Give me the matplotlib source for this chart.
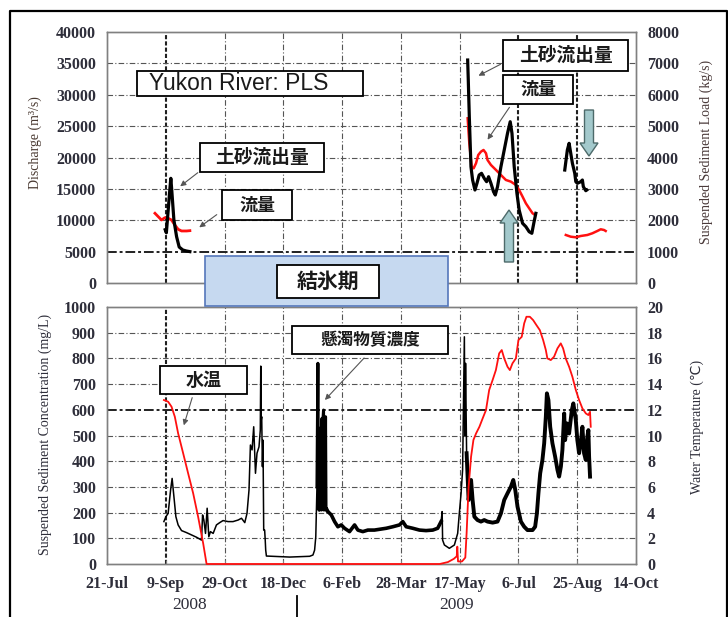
import matplotlib
matplotlib.use("Agg")
import matplotlib.pyplot as plt
from matplotlib.patches import Rectangle, Polygon, FancyArrowPatch
from matplotlib.lines import Line2D
import numpy as np

W, H = 728, 617

# ---------------- data (x = days since 21-Jul-2008) ----------------
tick_days = [0, 50, 100, 150, 200, 250, 300, 350, 400, 450]
tick_labels = ["21-Jul", "9-Sep", "29-Oct", "18-Dec", "6-Feb", "28-Mar", "17-May", "6-Jul", "25-Aug", "14-Oct"]
q_ticks = [0, 5000, 10000, 15000, 20000, 25000, 30000, 35000, 40000]
load_ticks = [0, 1000, 2000, 3000, 4000, 5000, 6000, 7000, 8000]
ssc_ticks = [0, 100, 200, 300, 400, 500, 600, 700, 800, 900, 1000]
temp_ticks = [0, 2, 4, 6, 8, 10, 12, 14, 16, 18, 20]

# Discharge (m3/s)
discharge_2008 = [(40.8, 11110), (43.6, 10570), (46.4, 10040), (49.2, 10410), (52.0, 10310),
                  (54.9, 10040), (57.7, 9245), (60.5, 8560), (63.4, 8290), (67.7, 8290), (70.5, 8340)]
discharge_2009a = [(306.8, 26250), (308.2, 22270), (310.2, 18540), (311.9, 18280), (313.9, 19080),
                   (315.8, 20400), (318.1, 20930), (320.3, 21200), (322.4, 20670), (323.7, 19600),
                   (326.6, 18810), (330.9, 18010), (335.1, 17210), (339.3, 16420), (343.6, 16150),
                   (347.8, 15620), (350.6, 14820), (353.5, 13760), (356.3, 12700), (359.1, 11910),
                   (362.0, 11110), (364.2, 10840)]
discharge_2009b = [(390.3, 7651), (394.5, 7380), (398.8, 7285), (403.0, 7492), (408.6, 7651),
                   (412.9, 7922), (417.1, 8290), (420.0, 8560), (422.8, 8449), (424.2, 8290)]

# Suspended sediment load (kg/s)
load_2008 = [(49.5, 1700), (50.5, 1600), (52.0, 2300), (53.5, 3000), (54.3, 3337), (55.2, 2900),
             (56.9, 2008), (59.2, 1476), (61.4, 1147), (64.5, 1052), (67.5, 1020), (70.5, 1000)]
load_2009a = [(306.8, 7107), (307.3, 6500), (308.2, 5300), (309.6, 3707), (311.0, 3283), (313.0, 2964),
              (314.7, 3177), (316.6, 3442), (318.6, 3496), (320.9, 3337), (322.9, 3229), (324.6, 3388),
              (326.6, 3177), (328.8, 2910), (330.3, 2805), (332.2, 3069), (335.1, 3707), (337.9, 4239),
              (340.7, 4771), (343.0, 5141), (344.5, 4771), (346.4, 3707), (348.7, 2859), (350.6, 2327),
              (353.5, 1903), (356.3, 1796), (359.1, 1635), (361.4, 1584), (363.3, 1954), (364.8, 2221)]
load_2009b = [(389.4, 3601), (391.6, 4239), (393.1, 4452), (394.5, 4133), (395.9, 3815), (397.9, 3496),
              (398.8, 3229), (400.1, 3177), (403.0, 3229), (404.4, 3283), (405.2, 3069), (407.3, 2942),
              (408.1, 2964)]

# Suspended sediment concentration (mg/L)
ssc = [(48.4, 165), (50.1, 184), (52.0, 197), (54.1, 288), (55.4, 333), (56.9, 262), (58.6, 184),
       (60.5, 152), (63.4, 130), (67.7, 122), (71.9, 113), (76.2, 104), (80.4, 93), (81.3, 191),
       (82.4, 171), (83.8, 119), (85.2, 217), (86.6, 106), (88.0, 126), (90.3, 119), (93.1, 152),
       (95.9, 161), (98.7, 169), (103.0, 165), (107.2, 165), (111.5, 171), (114.4, 178), (117.2, 161),
       (119.1, 197), (120.8, 288), (122.0, 463), (123.4, 444), (124.8, 534), (126.3, 353), (127.6, 431),
       (129.3, 456), (130.4, 521), (130.8, 770), (131.2, 560), (131.6, 573), (132.2, 379), (132.7, 482),
       (133.3, 132), (134.1, 132), (134.6, 93), (135.0, 54), (135.6, 31), (155.4, 27), (172.4, 30),
       (175.2, 35), (176.6, 54), (177.6, 106), (178.6, 300), (179.4, 781), (179.8, 300), (180.2, 210),
       (180.5, 528), (180.9, 210), (181.3, 520), (181.7, 215), (182.1, 530), (182.5, 210), (182.9, 567),
       (183.3, 212), (183.7, 560), (184.2, 599), (184.6, 210), (185.0, 555), (185.4, 212), (185.9, 573),
       (186.3, 210), (187.0, 215), (187.9, 204), (190.8, 191), (193.6, 165), (196.4, 145), (199.3, 152),
       (202.1, 139), (206.3, 126), (210.6, 152), (213.4, 132), (217.6, 126), (221.9, 132), (227.5, 132),
       (231.8, 135), (237.5, 139), (243.1, 145), (248.8, 152), (251.6, 165), (254.5, 145), (260.1, 139),
       (265.8, 132), (271.4, 130), (277.1, 132), (281.3, 139), (284.2, 165), (285.1, 204), (285.5, 93),
       (287.0, 74), (291.2, 61), (295.5, 74), (298.3, 119), (299.7, 197), (301.2, 275), (302.5, 366),
       (304.0, 884), (304.5, 500), (305.0, 781), (305.9, 431), (307.6, 249), (309.7, 327), (311.0, 249),
       (312.5, 184), (315.2, 171), (318.1, 165), (320.9, 171), (323.7, 165), (328.0, 161), (332.2, 165),
       (335.1, 197), (337.9, 249), (340.7, 275), (343.6, 301), (345.6, 327), (347.3, 288), (349.2, 223),
       (352.1, 165), (354.9, 145), (357.7, 132), (362.0, 132), (364.2, 145), (365.7, 197), (367.0, 275),
       (368.5, 353), (370.4, 405), (371.9, 470), (373.3, 573), (374.2, 664), (375.5, 638), (377.0, 534),
       (378.9, 470), (381.2, 418), (383.2, 366), (384.6, 340), (386.1, 379), (387.4, 444), (388.9, 586),
       (389.7, 482), (391.2, 547), (393.1, 508), (395.4, 599), (396.7, 625), (398.8, 560), (400.1, 482),
       (401.6, 431), (403.0, 470), (404.4, 534), (405.8, 431), (407.3, 405), (408.6, 495), (409.5, 521),
       (410.1, 418), (410.9, 340)]

# Water temperature (C)
temperature = [(48.4, 12.76), (52.0, 12.63), (54.9, 12.24), (57.7, 11.46), (60.5, 10.17), (64.8, 8.61),
               (69.0, 7.06), (73.3, 5.50), (77.5, 3.68), (81.8, 1.61), (84.7, 0.0), (283.0, 0.0),
               (290.0, 0.15), (295.0, 0.4), (297.5, 0.6), (298.0, 1.35), (298.6, 0.2), (302.0, 0.2),
               (304.8, 0.5), (305.9, 2.39), (307.6, 6.01), (309.7, 8.35), (311.7, 9.65), (314.0, 10.17),
               (316.8, 10.68), (319.6, 11.34), (322.4, 11.98), (325.1, 13.54), (328.0, 14.31), (330.8, 15.09),
               (333.6, 16.39), (335.8, 16.65), (337.9, 16.0), (340.7, 15.35), (342.7, 15.09), (344.9, 15.61),
               (347.8, 16.0), (350.0, 17.43), (352.8, 17.68), (354.9, 18.73), (356.8, 19.24), (359.7, 19.24),
               (362.5, 18.98), (365.3, 18.59), (368.2, 18.2), (371.0, 17.43), (373.3, 16.65), (374.6, 16.0),
               (377.5, 15.87), (380.3, 16.13), (383.2, 16.78), (386.0, 17.17), (388.0, 16.78), (390.2, 16.0),
               (393.1, 15.35), (395.9, 14.57), (398.8, 13.54), (401.6, 12.76), (404.4, 12.11), (407.3, 11.72),
               (409.5, 11.59), (410.9, 11.85), (411.5, 10.68)]

# ---------------- helpers ----------------
def fx(x):
    return x / W

def fy(y):
    return 1 - y / H

def xy(x, y):
    return (fx(x), fy(y))

SERIF = ["Liberation Serif", "DejaVu Serif"]
CJK = ["Noto Sans CJK JP", "DejaVu Sans"]
TXT = "#2e2e3a"
GRID = "#555555"

fig = plt.figure(figsize=(W / 100, H / 100), dpi=100)
fig.patch.set_facecolor("white")

ax_l, ax_r = 107, 636
ax1 = fig.add_axes([fx(ax_l), fy(283), fx(ax_r - ax_l), (283 - 32) / H])
ax2 = fig.add_axes([fx(ax_l), fy(564), fx(ax_r - ax_l), (564 - 307) / H])
ax1t = ax1.twinx()
ax2t = ax2.twinx()

def unz(pts):
    a = np.array(pts, dtype=float)
    return a[:, 0], a[:, 1]

def style_axes(ax, twin, lticks, rticks, bold_v, bold_h):
    ax.set_xlim(0, 450)
    ax.set_ylim(lticks[0], lticks[-1])
    twin.set_ylim(rticks[0], rticks[-1])
    ax.set_yticks(lticks)
    twin.set_yticks(rticks)
    ax.set_yticklabels([str(v) for v in lticks])
    twin.set_yticklabels([str(v) for v in rticks])
    for a in (ax, twin):
        for s in a.spines.values():
            s.set_color("#808080")
            s.set_linewidth(1.0)
        a.tick_params(axis="y", length=0, labelsize=11.5, labelcolor=TXT, pad=8)
        for lab in a.get_yticklabels():
            lab.set_fontfamily(SERIF)
            lab.set_fontweight("bold")
    for d in tick_days[1:-1]:
        if d in bold_v:
            ax.axvline(d, color="#202020", lw=1.5, ls=(0, (2, 1)), zorder=0.5)
        else:
            ax.axvline(d, color=GRID, lw=0.8, ls=(0, (5, 2, 1, 2)), zorder=0.5)
    for v in lticks[1:-1]:
        if v in bold_h:
            ax.axhline(v, color="#202020", lw=1.4, ls=(0, (5, 1.5, 1.5, 1.5)), zorder=0.5)
        else:
            ax.axhline(v, color=GRID, lw=0.8, ls=(0, (5, 2, 1, 2)), zorder=0.5)

style_axes(ax1, ax1t, q_ticks, load_ticks, [50, 350, 400], [5000])
style_axes(ax2, ax2t, ssc_ticks, temp_ticks, [50], [600])

ax1.set_xticks(tick_days)
ax1.tick_params(axis="x", length=0, labelbottom=False)
ax2.set_xticks(tick_days)
ax2.set_xticklabels(tick_labels)
ax2.tick_params(axis="x", length=3, direction="in", labelsize=11.5, labelcolor=TXT, pad=9, color="#808080")
for lab in ax2.get_xticklabels():
    lab.set_fontfamily(SERIF)
    lab.set_fontweight("bold")

# ---------------- series ----------------
for pts, lw in ((discharge_2008, 2.0), (discharge_2009a, 1.8), (discharge_2009b, 1.8)):
    x, y = unz(pts)
    ax1.plot(x, y, color="#ff1010", lw=lw, zorder=3)
ax1.set_zorder(1)
ax1t.set_zorder(2)
ax1t.patch.set_visible(False)
for pts in (load_2008, load_2009a, load_2009b):
    x, y = unz(pts)
    ax1t.plot(x, y, color="black", lw=2.3, zorder=3)

sx, sy = unz(ssc)
ax2.plot(sx, sy, color="black", lw=1.1, zorder=3)
for a, b, lw in ((178.6, 187.9, 2.2), (187.9, 284.2, 2.6), (305.9, 411, 2.8)):
    m = (sx >= a) & (sx <= b)
    ax2.plot(sx[m], sy[m], color="black", lw=lw, zorder=3)
ax2.set_zorder(1)
ax2t.set_zorder(2)
ax2t.patch.set_visible(False)
tx, ty = unz(temperature)
ax2t.plot(tx, ty, color="#ff1010", lw=1.3, zorder=3, clip_on=False)

# ---------------- axis labels ----------------
fig.text(fx(35), fy(143), "Discharge (m³/s)", rotation=90, ha="center", va="center",
         fontsize=10, color="#4a3a32", family=SERIF)
fig.text(fx(706), fy(152), "Suspended Sediment Load (kg/s)", rotation=90, ha="center", va="center",
         fontsize=10, color="#4a3a3a", family=SERIF)
fig.text(fx(45), fy(434), "Suspended Sediment Concentration (mg/L)", rotation=90, ha="center",
         va="center", fontsize=10, color="#2e2e3a", family=SERIF)
fig.text(fx(697), fy(427), "Water Temperature (℃)", rotation=90, ha="center", va="center",
         fontsize=10, color="#2e2e3a", family=["Liberation Serif", "DejaVu Sans"])
fig.text(fx(190), fy(605), "2008", ha="center", va="center", fontsize=12.5, color=TXT, family=SERIF)
fig.text(fx(457), fy(605), "2009", ha="center", va="center", fontsize=12.5, color=TXT, family=SERIF)
fig.add_artist(Line2D([fx(297), fx(297)], [fy(596), fy(617)], color="black", lw=1.3,
                      transform=fig.transFigure))

# outer frame
fig.add_artist(Line2D([fx(10), fx(10), fx(727), fx(727)], [0, fy(11), fy(11), 0],
                      color="black", lw=1.6, transform=fig.transFigure))

# ---------------- boxes ----------------
def box(x0, y0, x1, y1, text, fs, family, weight="bold", face="white", edge="black", lw=1.3, z=5, tx=None):
    r = Rectangle(xy(x0, y1), fx(x1 - x0), (y1 - y0) / H, facecolor=face, edgecolor=edge,
                  lw=lw, transform=fig.transFigure, zorder=z)
    fig.add_artist(r)
    if text:
        cx = (x0 + x1) / 2 if tx is None else tx
        fig.text(fx(cx), fy((y0 + y1) / 2), text, ha="center", va="center",
                 fontsize=fs, family=family, weight=weight, color="#1a1a1a", zorder=z + 0.1)

box(205, 256, 448, 306, "", 10, CJK, face="#c6d9f0", edge="#5577bb", lw=1.2, z=4)
box(277, 265, 379, 298, "結氷期", 15, CJK, z=5)
box(137, 71, 363, 96, "Yukon River: PLS", 16.5, ["Liberation Sans", "DejaVu Sans"], weight="normal", tx=239)
box(200, 143, 324, 172, "土砂流出量", 13.5, CJK)
box(222, 190, 292, 220, "流量", 13, CJK)
box(503, 40, 628, 71, "土砂流出量", 13.5, CJK)
box(503, 75, 573, 104, "流量", 13, CJK)
box(160, 366, 247, 394, "水温", 13, CJK)
box(292, 326, 448, 354, "懸濁物質濃度", 12, CJK)

# annotation arrows
for (x0, y0), (x1, y1) in [((200, 171), (178, 188)), ((219, 213), (197, 229)),
                           ((503, 63), (476, 77)), ((511, 105), (486, 142)),
                           ((193, 395), (183, 428)), ((366, 356), (323, 402))]:
    fig.add_artist(FancyArrowPatch(xy(x0, y0), xy(x1, y1), transform=fig.transFigure,
                                   arrowstyle="-|>", mutation_scale=8, lw=0.8,
                                   color="#555555", zorder=6))

# block arrows
def block_arrow(cx, tip, base, head_len, shaft_w, head_w):
    d = 1 if base > tip else -1
    hb = tip + d * head_len
    pts = [(cx, tip), (cx + head_w / 2, hb), (cx + shaft_w / 2, hb), (cx + shaft_w / 2, base),
           (cx - shaft_w / 2, base), (cx - shaft_w / 2, hb), (cx - head_w / 2, hb)]
    fig.add_artist(Polygon([xy(px, py) for px, py in pts], closed=True, transform=fig.transFigure,
                           facecolor="#a3c9cc", edgecolor="#4d6a6a", lw=1.0, zorder=6))

block_arrow(589, 156, 110, 13, 9, 18)
block_arrow(509, 210, 262, 13, 9, 18)

fig.savefig("out.png", dpi=100)
